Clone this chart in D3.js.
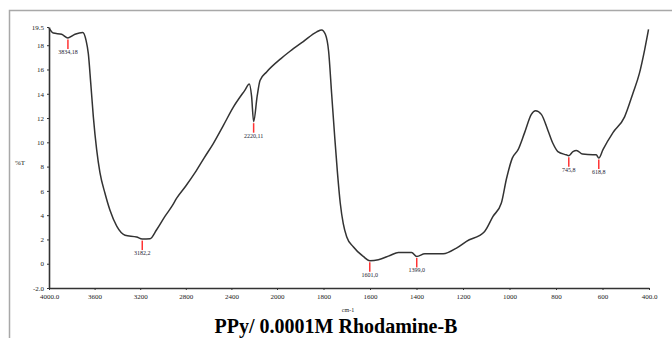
<!DOCTYPE html>
<html>
	<head>
		<meta charset="utf-8">
		<title>PPy/ 0.0001M Rhodamine-B</title>
		<script src="https://cdn.jsdelivr.net/npm/d3@7/dist/d3.min.js"></script>
		<style>
			body { margin: 0; background: #fff; }
		</style>
	</head>
	<body>
		<div id='viz'></div>
		<script>
			// spectrum: wavenumber (cm-1) and %T
			var wavenumbers = [4000, 3962, 3889, 3834, 3772, 3704, 3675, 3655, 3634, 3611, 3582, 3553, 3509, 3465, 3406, 3333, 3231, 3182, 3114, 3056, 2983, 2924, 2880, 2800, 2719, 2640, 2559, 2470, 2383, 2281, 2243, 2223, 2205, 2174, 2149, 2091, 1983, 1944, 1887, 1829, 1808, 1792, 1778, 1765, 1752, 1740, 1728, 1715, 1700, 1672, 1629, 1601, 1564, 1514, 1478, 1421, 1399, 1364, 1285, 1228, 1185, 1107, 1071, 1035, 1013, 988, 963, 935, 906, 888, 863, 835, 813, 792, 756, 745, 727, 712, 686, 641, 627, 616, 598, 555, 505, 469, 441, 419, 402];
			var transmittance = [19.4, 19.0, 18.9, 18.6, 18.9, 19.05, 18.4, 17.3, 14.9, 12.1, 9.4, 7.5, 5.8, 4.4, 3.1, 2.35, 2.2, 2.03, 2.06, 2.8, 3.9, 4.7, 5.4, 6.4, 7.5, 8.7, 9.9, 11.4, 12.9, 14.3, 14.8, 13.8, 11.7, 13.8, 15.1, 15.8, 16.9, 17.5, 18.3, 19.1, 19.26, 18.9, 17.5, 14.0, 10.5, 7.5, 5.0, 3.3, 2.2, 1.4, 0.6, 0.25, 0.33, 0.68, 0.93, 0.93, 0.6, 0.82, 0.82, 1.29, 1.84, 2.66, 3.9, 5.0, 7.0, 8.7, 9.4, 10.8, 12.3, 12.6, 12.3, 11.0, 9.9, 9.24, 8.97, 8.9, 9.24, 9.33, 9.03, 8.97, 8.97, 8.7, 9.4, 10.8, 12.1, 14.05, 15.7, 17.6, 19.3];

			// marked peaks
			var peakPositions = [3834, 3182, 2205, 1601, 1399, 745, 616];
			var peakValues = [18.6, 2.03, 11.7, 0.25, 0.6, 8.9, 8.7];
			var peakLabels = ['3834,18', '3182,2', '2220,11', '1601,0', '1399,0', '745,8', '618,8'];

			var xTicks = [4000, 3600, 3200, 2800, 2400, 2000, 1800, 1600, 1400, 1200, 1000, 800, 600, 400];
			var yTicks = [-2, 0, 2, 4, 6, 8, 10, 12, 14, 16, 18, 19.5];

			var width = 672,
				height = 338;

			var svg = d3.select('#viz')
				.append('svg')
				.attr('width', width)
				.attr('height', height);

			// frame
			svg.append('path')
				.attr('d', 'M9.5,338V10.5H672')
				.attr('fill', 'none')
				.attr('stroke', '#a8a8a8')
				.attr('stroke-width', 1.5);

			// scale changes at 2000 cm-1
			var x = d3.scaleLinear().domain([4000, 2000, 400]).range([49, 277, 649]);
			var y = d3.scaleLinear().domain([-2, 19.5]).range([288, 27]);

			var xFmt = function(d){ return (d == 4000 || d == 400) ? d.toFixed(1) : d; };
			var yFmt = function(d){ return (d == -2 || d == 19.5) ? d.toFixed(1) : d; };

			var xAxis = svg.append('g')
				.attr('transform', 'translate(0,288)')
				.call(d3.axisBottom(x).tickValues(xTicks).tickFormat(xFmt).tickSize(2).tickSizeOuter(0));
			var yAxis = svg.append('g')
				.attr('transform', 'translate(49,0)')
				.call(d3.axisLeft(y).tickValues(yTicks).tickFormat(yFmt).tickSize(2).tickSizeOuter(0));

			[xAxis, yAxis].forEach(function(g){
				g.select('.domain').attr('stroke', '#333').attr('stroke-width', 1.6);
				g.selectAll('.tick line').attr('stroke', '#333');
				g.selectAll('text')
					.attr('font-family', 'Liberation Serif, serif')
					.attr('font-size', 7)
					.attr('fill', '#222');
			});
			xAxis.selectAll('text').attr('dy', '0.9em');
			yAxis.selectAll('text').attr('x', -5);

			var line = d3.line()
				.x(function(d, i){ return x(wavenumbers[i]); })
				.y(function(d){ return y(d); })
				.curve(d3.curveMonotoneX);

			svg.append('path')
				.datum(transmittance)
				.attr('d', line)
				.attr('fill', 'none')
				.attr('stroke', '#333')
				.attr('stroke-width', 1.5);

			// peak markers
			var peaks = svg.append('g')
				.selectAll('g')
				.data(peakPositions)
				.join('g')
				.attr('transform', function(d, i){ return 'translate(' + x(d) + ',' + y(peakValues[i]) + ')'; });
			peaks.append('line')
				.attr('y1', 1.5)
				.attr('y2', 11)
				.attr('stroke', '#ff3333')
				.attr('stroke-width', 1.5);
			peaks.append('text')
				.attr('y', 16)
				.attr('text-anchor', 'middle')
				.attr('font-family', 'Liberation Serif, serif')
				.attr('font-size', 6)
				.attr('fill', '#223')
				.text(function(d, i){ return peakLabels[i]; });

			svg.append('text')
				.attr('x', 20)
				.attr('y', 165)
				.attr('text-anchor', 'middle')
				.attr('font-family', 'Liberation Serif, serif')
				.attr('font-size', 7)
				.attr('fill', '#222')
				.text('%T');
			svg.append('text')
				.attr('x', 348)
				.attr('y', 312)
				.attr('text-anchor', 'middle')
				.attr('font-family', 'Liberation Serif, serif')
				.attr('font-size', 6)
				.attr('fill', '#222')
				.text('cm-1');

			svg.append('text')
				.attr('x', 336)
				.attr('y', 333)
				.attr('text-anchor', 'middle')
				.attr('font-family', 'Liberation Serif, serif')
				.attr('font-weight', 'bold')
				.attr('font-size', 20)
				.attr('fill', '#000')
				.text('PPy/ 0.0001M Rhodamine-B');
		</script>
	</body>
</html>
